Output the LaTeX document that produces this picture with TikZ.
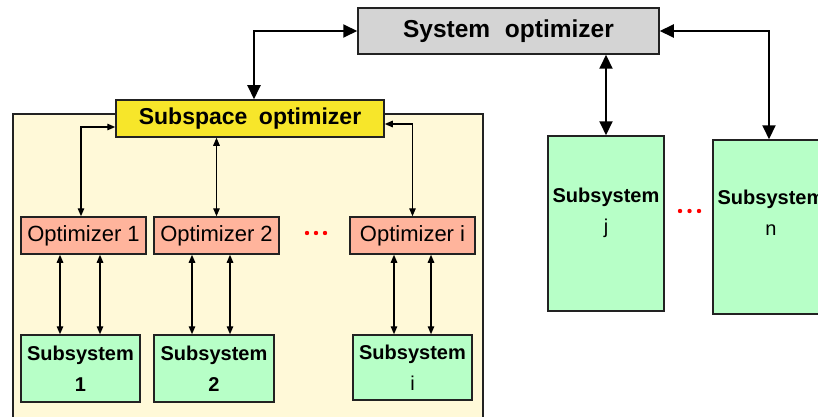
\documentclass[tikz,border=0pt]{standalone}
\usepackage{fontspec}
\setmainfont{Liberation Sans}
\usetikzlibrary{arrows.meta,calc}
\definecolor{grayfill}{HTML}{D4D4D4}
\definecolor{yelfill}{HTML}{F7E62A}
\definecolor{panelfill}{HTML}{FFF9D8}
\definecolor{salfill}{HTML}{FFB49C}
\definecolor{grnfill}{HTML}{B7FFC7}
\definecolor{edge}{HTML}{222222}
\tikzset{
  box/.style={draw=edge, line width=1.5pt, inner sep=0pt, align=center},
  subfont/.style={font=\fontsize{20}{31}\selectfont},
  bigarrow/.style={line width=2pt, {Triangle[length=14pt,width=13pt]}-{Triangle[length=14pt,width=13pt]}},
  smallarrow/.style={line width=1.4pt, {Triangle[length=8pt,width=6.5pt]}-{Triangle[length=8pt,width=6.5pt]}},
  reddot/.style={fill=red}
}
\begin{document}
\begin{tikzpicture}[x=1pt,y=-1pt]
\useasboundingbox (0,0) rectangle (818,417);
\clip (0,0) rectangle (818,417);
% panel
\node[box, fill=panelfill, minimum width=470pt, minimum height=310pt, anchor=north west] (panel) at (12,113) {};
% system optimizer
\node[box, fill=grayfill, minimum width=301pt, minimum height=46pt, font=\fontsize{24.5}{28}\selectfont\bfseries] (sysopt) at (508.5,31)
  {System\hspace{0.6em}optimizer};
\node[box, fill=yelfill, minimum width=268pt, minimum height=37pt, font=\fontsize{23}{26}\selectfont\bfseries] (subopt) at (250,118.5)
  {\raisebox{-2pt}{Subspace\hspace{0.5em}optimizer}};
% optimizers
\foreach \n/\x/\t in {opt1/83.5/1, opt2/216.5/2, opti/412.5/i}{
  \node[box, fill=salfill, minimum width=125pt, minimum height=37pt, font=\fontsize{22}{26}\selectfont] (\n) at (\x,235.5)
    {\raisebox{-2pt}{Optimizer \t}};
}
% subsystems in panel
\node[box, fill=grnfill, minimum width=119pt, minimum height=67pt, subfont] (sub1) at (80.5,368.5)
  {\textbf{Subsystem}\\\textbf{1}};
\node[box, fill=grnfill, minimum width=120pt, minimum height=67pt, subfont] (sub2) at (214,368.5)
  {\textbf{Subsystem}\\\textbf{2}};
\node[box, fill=grnfill, minimum width=119pt, minimum height=65pt, subfont] (subi) at (412.5,367.5)
  {\textbf{Subsystem}\\i};
% right subsystems
\node[box, fill=grnfill, minimum width=116pt, minimum height=175pt] (subj) at (606,223.5) {};
\node[subfont, align=center] (subjt) at (606,213) {\textbf{Subsystem}\\j};
\node[box, fill=grnfill, minimum width=116pt, minimum height=174pt] (subn) at (771,227) {};
\node[subfont, align=center] (subnt) at (771,213) {\textbf{Subsystem}\\n};
% big arrows
\draw[bigarrow] (sysopt.west) -| ([xshift=4pt]subopt.north);
\draw[bigarrow] (sysopt.south -| subj.north) -- (subj.north);
\draw[bigarrow] (sysopt.east) -| ([xshift=-2pt]subn.north);
% subspace to optimizers
\draw[smallarrow] ([yshift=-8.5pt]subopt.west) -| ([xshift=-2.5pt]opt1.north);
\draw[smallarrow] (subopt.south -| opt2.north) -- (opt2.north);
\draw[smallarrow] ([yshift=-5.5pt]subopt.east) -| (opti.north);
% optimizers to subsystems
\coordinate (a1) at ([xshift=-23.5pt]opt1.south);
\coordinate (b1) at ([xshift=16.5pt]opt1.south);
\coordinate (a2) at ([xshift=-24.5pt]opt2.south);
\coordinate (b2) at ([xshift=13.5pt]opt2.south);
\coordinate (ai) at ([xshift=-18.5pt]opti.south);
\coordinate (bi) at ([xshift=18.5pt]opti.south);
\draw[smallarrow] (a1) -- (a1 |- sub1.north);
\draw[smallarrow] (b1) -- (b1 |- sub1.north);
\draw[smallarrow] (a2) -- (a2 |- sub2.north);
\draw[smallarrow] (b2) -- (b2 |- sub2.north);
\draw[smallarrow] (ai) -- (ai |- subi.north);
\draw[smallarrow] (bi) -- (bi |- subi.north);
% red dots
\foreach \x in {307,316,325} \fill[reddot] (\x,233) circle (2.2pt);
\foreach \x in {680,689.5,699} \fill[reddot] (\x,211) circle (2.2pt);
\end{tikzpicture}
\end{document}
